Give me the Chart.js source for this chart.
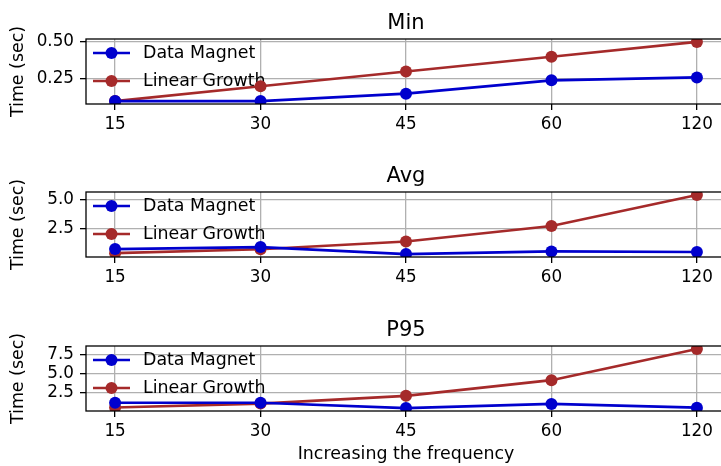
<!DOCTYPE html>
<html>
<head>
<meta charset="utf-8">
<script src="https://cdn.jsdelivr.net/npm/chart.js@4.4.1/dist/chart.umd.min.js"></script>
<style>
  html, body { margin: 0; padding: 0; background: #fff; }
  #wrap { position: relative; width: 721px; height: 466px; overflow: hidden; }
  canvas { position: absolute; left: 0; }
</style>
</head>
<body>
<div id="wrap">
  <canvas id="c0" width="746" height="150"></canvas>
  <canvas id="c1" width="746" height="150"></canvas>
  <canvas id="c2" width="746" height="159"></canvas>
</div>
<script>
/* data */
var freqs = ["15", "30", "45", "60", "120"];

var minMagnet = [0.10, 0.10, 0.15, 0.24, 0.26];
var minLinear = [0.10, 0.20, 0.30, 0.40, 0.50];
var avgMagnet = [0.70, 0.87, 0.26, 0.49, 0.44];
var avgLinear = [0.34, 0.68, 1.36, 2.72, 5.45];
var p95Magnet = [1.15, 1.15, 0.45, 1.00, 0.50];
var p95Linear = [0.52, 1.04, 2.07, 4.14, 8.28];

var minTicks = [0.25, 0.50];
var avgTicks = [2.5, 5.0];
var p95Ticks = [2.5, 5.0, 7.5];

var BLUE = '#0000cd', RED = '#a52a2a';
var FS = 17.4;      // labels, legend
var TFS = 16.8;     // tick labels

Chart.defaults.font.family = "'DejaVu Sans', sans-serif";
Chart.defaults.color = '#000';

function pts(arr) {
  return arr.map(function(v, i){ return {x: i, y: v}; });
}

// title over the axes, legend under the lines, box frame on top (matplotlib look)
var framePlugin = {
  id: 'frame',
  beforeDatasetsDraw: function(chart, args, opts) {
    var ctx = chart.ctx, a = chart.chartArea;
    ctx.save();
    ctx.fillStyle = '#000';
    ctx.font = "21px 'DejaVu Sans'";
    ctx.textAlign = 'center';
    ctx.textBaseline = 'alphabetic';
    ctx.fillText(opts.title, (a.left + a.right) / 2, a.top - 10);

    chart.data.datasets.forEach(function(ds, k){
      var y = a.top + 14 + k * 28;
      ctx.strokeStyle = ds.borderColor;
      ctx.lineWidth = 2.7;
      ctx.beginPath(); ctx.moveTo(a.left + 7, y); ctx.lineTo(a.left + 44, y); ctx.stroke();
      ctx.fillStyle = ds.borderColor;
      ctx.beginPath(); ctx.arc(a.left + 25.5, y, 6, 0, Math.PI * 2); ctx.fill();
      ctx.fillStyle = '#000';
      ctx.font = FS + "px 'DejaVu Sans'";
      ctx.textBaseline = 'middle';
      ctx.textAlign = 'left';
      ctx.fillText(ds.label, a.left + 57, y);
    });
    ctx.restore();
  },
  afterDraw: function(chart) {
    var ctx = chart.ctx, a = chart.chartArea;
    ctx.save();
    ctx.strokeStyle = '#000';
    ctx.lineWidth = 1.3;
    ctx.strokeRect(a.left, a.top, a.right - a.left, a.bottom - a.top);
    ctx.restore();
  }
};

function makePanel(id, top, title, magnet, linear, yTicks, dec, xTitle) {
  var cv = document.getElementById(id);
  cv.style.top = top + 'px';
  var all = magnet.concat(linear);
  var lo = Math.min.apply(null, all), hi = Math.max.apply(null, all);
  var m = (hi - lo) * 0.05;
  var bottomPad = xTitle ? 1 : 0;
  var xH = cv.height - 104 - bottomPad;
  var grid = { color: '#b0b0b0', lineWidth: 1.3, tickColor: '#000', tickWidth: 1.3, tickLength: 6 };

  return new Chart(cv.getContext('2d'), {
    type: 'line',
    data: {
      datasets: [
        { label: 'Data Magnet', data: pts(magnet), borderColor: BLUE, backgroundColor: BLUE,
          borderWidth: 2.7, pointRadius: 6, pointBorderWidth: 0, pointBackgroundColor: BLUE, clip: 0 },
        { label: 'Linear Growth', data: pts(linear), borderColor: RED, backgroundColor: RED,
          borderWidth: 2.7, pointRadius: 6, pointBorderWidth: 0, pointBackgroundColor: RED, clip: 0 }
      ]
    },
    options: {
      responsive: false,
      animation: false,
      devicePixelRatio: 1,
      layout: { padding: { left: 8, right: 20, top: 39, bottom: bottomPad } },
      plugins: {
        legend: { display: false },
        tooltip: { enabled: false },
        title: { display: false },
        frame: { title: title }
      },
      scales: {
        x: {
          type: 'linear', min: -0.2, max: 4.2,
          afterBuildTicks: function(s){ s.ticks = freqs.map(function(f, i){ return {value: i}; }); },
          afterFit: function(s){ s.height = xH; },
          ticks: { callback: function(v){ return freqs[v]; }, padding: 5, font: { size: TFS },
                   maxRotation: 0, autoSkip: false },
          grid: grid,
          border: { display: false },
          title: { display: !!xTitle, text: xTitle || '', font: { size: FS }, padding: 0 }
        },
        y: {
          min: lo - m, max: hi + m,
          afterBuildTicks: function(s){ s.ticks = yTicks.map(function(v){ return {value: v}; }); },
          afterFit: function(s){ s.width = 78; },
          ticks: { callback: function(v){ return Number(v).toFixed(dec); }, padding: 6, font: { size: TFS } },
          grid: grid,
          border: { display: false },
          title: { display: true, text: 'Time (sec)', font: { size: FS }, padding: 0 }
        }
      }
    },
    plugins: [framePlugin]
  });
}

makePanel('c0', 0, 'Min', minMagnet, minLinear, minTicks, 2, null);
makePanel('c1', 153, 'Avg', avgMagnet, avgLinear, avgTicks, 1, null);
makePanel('c2', 307, 'P95', p95Magnet, p95Linear, p95Ticks, 1, 'Increasing the frequency');
</script>
</body>
</html>
